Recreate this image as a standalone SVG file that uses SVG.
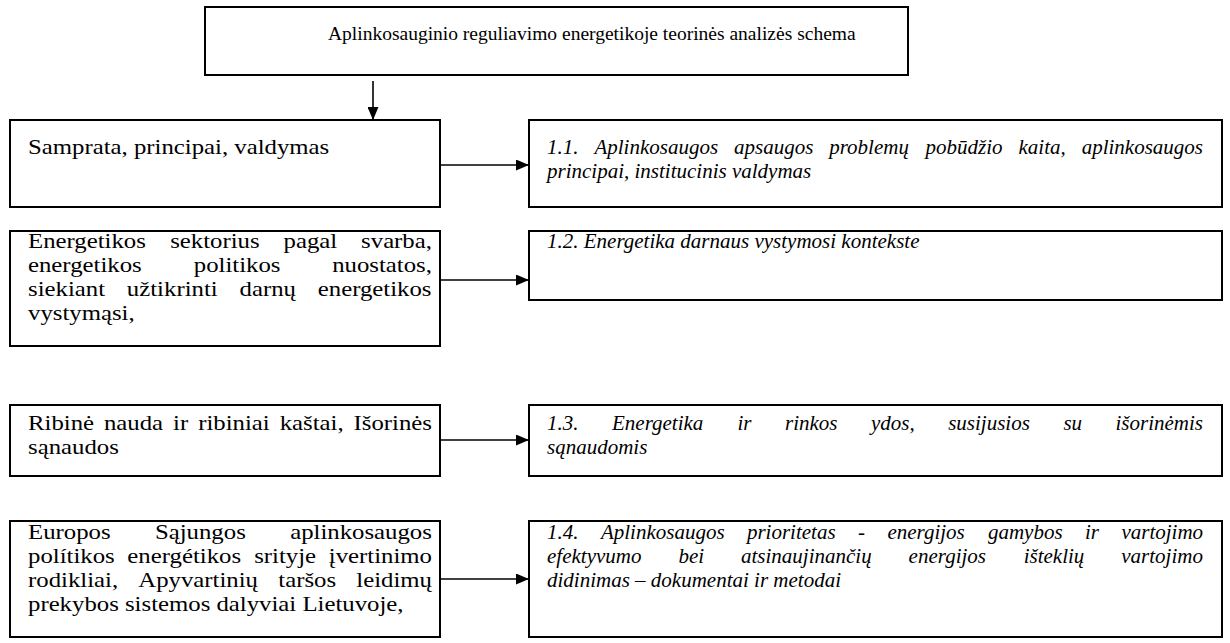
<svg xmlns="http://www.w3.org/2000/svg" width="1230" height="643" viewBox="0 0 1230 643">
  <style>
    .box { fill: #ffffff; stroke: #000000; stroke-width: 2; }
    .t { font-family: "Liberation Serif", "Times New Roman", serif; font-size: 21px; fill: #000000; }
    .it { font-style: italic; }
    .title { font-size: 19.5px; }
    .conn { stroke: #000000; stroke-width: 1.6; fill: none; marker-end: url(#arrow); }
  </style>
  <defs>
    <marker id="arrow" markerUnits="userSpaceOnUse" markerWidth="13" markerHeight="11" refX="13" refY="5.5" orient="auto">
      <path d="M0,0 L13,5.5 L0,11 Z" fill="#000000"/>
    </marker>
  </defs>
  <rect width="1230" height="643" fill="#ffffff"/>

  <!-- title -->
  <g id="title">
    <rect class="box" x="205" y="7" width="703" height="68"/>
    <text class="t title" x="328" y="40">Aplinkosauginio reguliavimo energetikoje teorinės analizės schema</text>
  </g>

  <!-- left column: topics (horizontally widened text, justified by word) -->
  <g id="topic-a">
    <rect class="box" x="10" y="120" width="430" height="87"/>
    <g transform="translate(28 0) scale(1.18 1)">
      <text class="t" x="0" y="154">Samprata, principai, valdymas</text>
    </g>
  </g>

  <g id="topic-b">
    <rect class="box" x="10" y="231" width="430" height="115"/>
    <g transform="translate(28 0) scale(1.18 1)">
      <text class="t" y="248"><tspan x="0">Energetikos</tspan><tspan x="120.5">sektorius</tspan><tspan x="216.6">pagal</tspan><tspan x="282.3">svarba,</tspan></text>
      <text class="t" y="272"><tspan x="0">energetikos</tspan><tspan x="140.5">politikos</tspan><tspan x="257.8">nuostatos,</tspan></text>
      <text class="t" y="296"><tspan x="0">siekiant</tspan><tspan x="83.8">užtikrinti</tspan><tspan x="179.3">darnų</tspan><tspan x="245.6">energetikos</tspan></text>
      <text class="t" x="0" y="320">vystymąsi,</text>
    </g>
  </g>

  <g id="topic-c">
    <rect class="box" x="10" y="405" width="430" height="71"/>
    <g transform="translate(28 0) scale(1.18 1)">
      <text class="t" y="430"><tspan x="0">Ribinė</tspan><tspan x="64.4">nauda</tspan><tspan x="122.9">ir</tspan><tspan x="144.2">ribiniai</tspan><tspan x="213.3">kaštai,</tspan><tspan x="275.9">Išorinės</tspan></text>
      <text class="t" x="0" y="454">sąnaudos</text>
    </g>
  </g>

  <g id="topic-d">
    <rect class="box" x="10" y="521" width="430" height="116"/>
    <g transform="translate(28 0) scale(1.18 1)">
      <text class="t" y="539"><tspan x="0">Europos</tspan><tspan x="107.6">Sąjungos</tspan><tspan x="222.2">aplinkosaugos</tspan></text>
      <text class="t" y="563"><tspan x="0">polítikos</tspan><tspan x="84.2">energétikos</tspan><tspan x="191.7">srityje</tspan><tspan x="254.9">įvertinimo</tspan></text>
      <text class="t" y="587"><tspan x="0">rodikliai,</tspan><tspan x="93.5">Apyvartinių</tspan><tspan x="212.1">taršos</tspan><tspan x="278.2">leidimų</tspan></text>
      <text class="t" x="0" y="611">prekybos sistemos dalyviai Lietuvoje,</text>
    </g>
  </g>

  <!-- right column: sections -->
  <g id="section-1-1">
    <rect class="box" x="529" y="120" width="693" height="87"/>
    <text class="t it" y="154"><tspan x="547">1.1.</tspan><tspan x="594.4">Aplinkosaugos</tspan><tspan x="734">apsaugos</tspan><tspan x="829.2">problemų</tspan><tspan x="925.6">pobūdžio</tspan><tspan x="1018.5">kaita,</tspan><tspan x="1081.7">aplinkosaugos</tspan></text>
    <text class="t it" x="547" y="178">principai, institucinis valdymas</text>
  </g>

  <g id="section-1-2">
    <rect class="box" x="529" y="231" width="693" height="69"/>
    <text class="t it" x="547" y="248">1.2. Energetika darnaus vystymosi kontekste</text>
  </g>

  <g id="section-1-3">
    <rect class="box" x="529" y="405" width="693" height="71"/>
    <text class="t it" y="430"><tspan x="547">1.3.</tspan><tspan x="612">Energetika</tspan><tspan x="737.5">ir</tspan><tspan x="785">rinkos</tspan><tspan x="871">ydos,</tspan><tspan x="948.2">susijusios</tspan><tspan x="1063.4">su</tspan><tspan x="1115.5">išorinėmis</tspan></text>
    <text class="t it" x="547" y="454">sąnaudomis</text>
  </g>

  <g id="section-1-4">
    <rect class="box" x="529" y="521" width="693" height="116"/>
    <text class="t it" y="539"><tspan x="547">1.4.</tspan><tspan x="600.9">Aplinkosaugos</tspan><tspan x="746.9">prioritetas</tspan><tspan x="858">-</tspan><tspan x="887.4">energijos</tspan><tspan x="987.9">gamybos</tspan><tspan x="1085">ir</tspan><tspan x="1121.4">vartojimo</tspan></text>
    <text class="t it" y="563"><tspan x="547">efektyvumo</tspan><tspan x="678.4">bei</tspan><tspan x="741">atsinaujinančių</tspan><tspan x="908.6">energijos</tspan><tspan x="1023.7">išteklių</tspan><tspan x="1121.3">vartojimo</tspan></text>
    <text class="t it" x="547" y="587">didinimas – dokumentai ir metodai</text>
  </g>

  <!-- connectors -->
  <g id="connectors">
    <line class="conn" x1="373" y1="81" x2="373" y2="120"/>
    <line class="conn" x1="441" y1="165" x2="529" y2="165"/>
    <line class="conn" x1="441" y1="280" x2="529" y2="280"/>
    <line class="conn" x1="441" y1="440" x2="529" y2="440"/>
    <line class="conn" x1="441" y1="579" x2="529" y2="579"/>
  </g>
</svg>
